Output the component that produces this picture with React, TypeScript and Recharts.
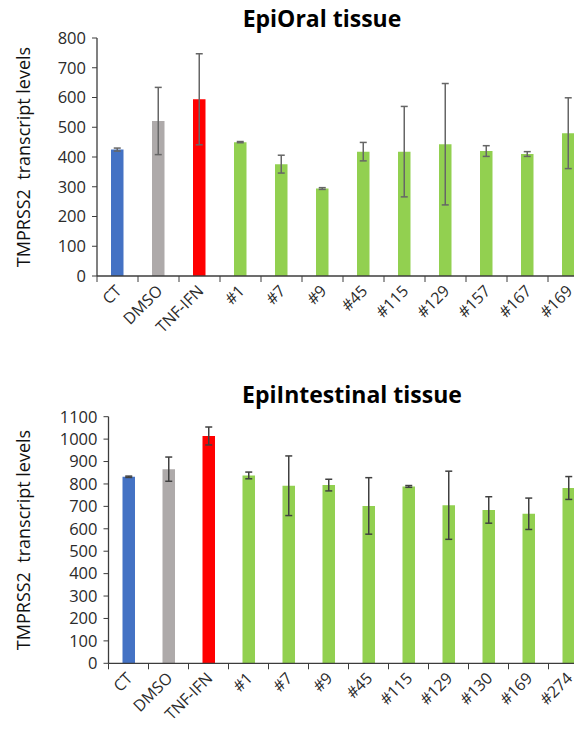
import { BarChart, Bar, XAxis, YAxis, Cell, ErrorBar, Label } from 'recharts';

const oralCategories = ['CT', 'DMSO', 'TNF-IFN', '#1', '#7', '#9', '#45', '#115', '#129', '#157', '#167', '#169'];
const oralMeans = [425, 521, 594, 450, 376, 294, 418, 418, 443, 420, 410, 480];
const oralErrors = [5, 113, 153, 2, 30, 3, 31, 152, 204, 18, 8, 119];
const oralTicks = [0, 100, 200, 300, 400, 500, 600, 700, 800];

const intestinalCategories = ['CT', 'DMSO', 'TNF-IFN', '#1', '#7', '#9', '#45', '#115', '#129', '#130', '#169', '#274'];
const intestinalMeans = [832, 866, 1014, 838, 792, 795, 702, 789, 705, 684, 667, 782];
const intestinalErrors = [3, 54, 40, 15, 133, 26, 126, 4, 152, 59, 70, 51];
const intestinalTicks = [0, 100, 200, 300, 400, 500, 600, 700, 800, 900, 1000, 1100];

// CT, DMSO, TNF-IFN, then every compound in green
const controlColors = ['#4472C4', '#AEAAAA', '#FF0000'];
const compoundColor = '#92D050';

const FONT = "'Open Sans', sans-serif";
const AXIS = '#3c3c3c';
const TEXT = '#2b2b2b';

const barColor = (i: number) => (i < controlColors.length ? controlColors[i] : compoundColor);

function CategoryTick({ x, y, payload, band }: any) {
  const tx = x + 5;
  const ty = y + 16;
  return (
    <g>
      <line x1={x - band / 2} x2={x - band / 2} y1={y} y2={y + 6} stroke={AXIS} />
      <text
        x={tx}
        y={ty}
        transform={`rotate(-45, ${tx}, ${ty})`}
        textAnchor="end"
        fontSize={16}
        fontFamily={FONT}
        fill={TEXT}
      >
        {payload.value}
      </text>
    </g>
  );
}

function YTitle({ viewBox }: any) {
  const cx = 23;
  const cy = viewBox.y + viewBox.height / 2;
  return (
    <text
      x={cx}
      y={cy}
      transform={`rotate(-90, ${cx}, ${cy})`}
      textAnchor="middle"
      dominantBaseline="central"
      fontSize={18}
      fontFamily={FONT}
      fill="#111"
      style={{ whiteSpace: 'pre' }}
    >
      {'TMPRSS2  transcript levels'}
    </text>
  );
}

interface PanelProps {
  categories: string[];
  means: number[];
  errors: number[];
  ticks: number[];
  axisWidth: number;
  band: number;
  top: number;
  plotHeight: number;
  height: number;
  errColor: string;
}

function Panel({ categories, means, errors, ticks, axisWidth, band, top, plotHeight, height, errColor }: PanelProps) {
  const data = categories.map((name, i) => ({ name, mean: means[i], err: errors[i] }));
  const plotWidth = band * categories.length;
  const width = 600;
  return (
    <BarChart
      width={width}
      height={height}
      data={data}
      margin={{ top, right: width - axisWidth - plotWidth, bottom: 0, left: 0 }}
      barSize={12.5}
    >
      <XAxis
        dataKey="name"
        interval={0}
        height={height - top - plotHeight}
        tickLine={false}
        tickSize={0}
        tickMargin={0}
        axisLine={{ stroke: AXIS, strokeWidth: 1.3 }}
        tick={<CategoryTick band={band} />}
      />
      <YAxis
        width={axisWidth}
        domain={[ticks[0], ticks[ticks.length - 1]]}
        ticks={ticks}
        interval={0}
        tickSize={5}
        tickMargin={6}
        axisLine={{ stroke: AXIS, strokeWidth: 1.3 }}
        tickLine={{ stroke: AXIS }}
        tick={{ fontSize: 16.5, fill: TEXT, fontFamily: FONT }}
      >
        <Label content={<YTitle />} />
      </YAxis>
      <Bar dataKey="mean" isAnimationActive={false}>
        {data.map((_, i) => (
          <Cell key={`cell-${i}`} fill={barColor(i)} />
        ))}
        <ErrorBar dataKey="err" width={3.5} stroke={errColor} strokeWidth={1.5} />
      </Bar>
    </BarChart>
  );
}

const titleStyle: React.CSSProperties = {
  position: 'absolute',
  transform: 'translateX(-50%)',
  fontFamily: FONT,
  fontWeight: 700,
  fontSize: 23,
  lineHeight: '26px',
  color: '#000',
  whiteSpace: 'nowrap',
};

export default function App() {
  return (
    <div
      style={{
        position: 'relative',
        width: 582,
        height: 729,
        margin: -8,
        overflow: 'hidden',
        background: '#fff',
      }}
    >
      <div style={{ ...titleStyle, left: 322, top: 5 }}>EpiOral tissue</div>
      <div style={{ position: 'absolute', left: 0, top: 0 }}>
        <Panel
          categories={oralCategories}
          means={oralMeans}
          errors={oralErrors}
          ticks={oralTicks}
          axisWidth={97}
          band={41}
          top={38}
          plotHeight={238}
          height={345}
          errColor="#666666"
        />
      </div>
      <div style={{ ...titleStyle, left: 352, top: 381 }}>EpiIntestinal tissue</div>
      <div style={{ position: 'absolute', left: 0, top: 370 }}>
        <Panel
          categories={intestinalCategories}
          means={intestinalMeans}
          errors={intestinalErrors}
          ticks={intestinalTicks}
          axisWidth={108.5}
          band={40}
          top={46.7}
          plotHeight={246.6}
          height={359}
          errColor="#404040"
        />
      </div>
    </div>
  );
}
